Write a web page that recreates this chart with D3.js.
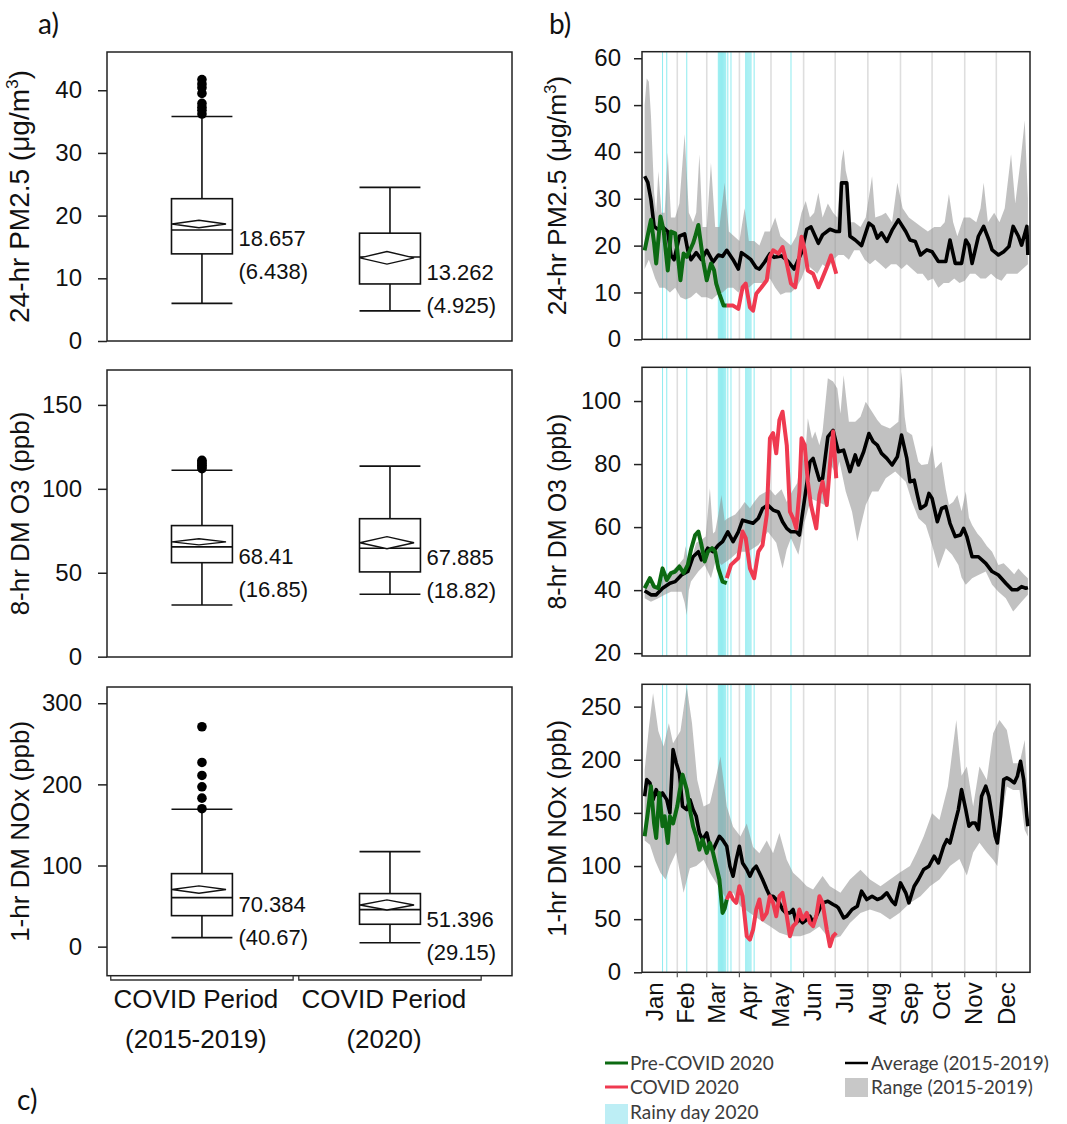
<!DOCTYPE html>
<html><head><meta charset="utf-8">
<script src="https://cdn.jsdelivr.net/npm/d3@7"></script>
<style>body{margin:0;background:#fff}</style>
</head><body>
<svg id="chart" width="1067" height="1124"></svg>
<script>
// ================= DATA =================
const catLine1 = ["COVID Period", "COVID Period"];
const catLine2 = ["(2015-2019)", "(2020)"];

// box-plot statistics: [2015-2019, 2020]
const pmWhiskerLow = [6.0, 4.8];
const pmQ1 = [13.9, 9.1];
const pmMedian = [17.7, 13.4];
const pmQ3 = [22.7, 17.2];
const pmWhiskerHigh = [35.8, 24.5];
const pmMean = [18.657, 13.262];
const pmSD = [6.438, 4.925];
const pmMeanCI = [0.6, 1.0];
const pmOutliers = [36.2, 36.8, 37.3, 37.9, 39.5, 40.4, 41.0, 41.7];

const o3WhiskerLow = [30.8, 37.2];
const o3Q1 = [56.0, 50.5];
const o3Median = [65.4, 64.6];
const o3Q3 = [78.1, 82.2];
const o3WhiskerHigh = [111.1, 113.5];
const o3Mean = [68.41, 67.885];
const o3SD = [16.85, 18.82];
const o3MeanCI = [1.8, 3.6];
const o3Outliers = [112, 113, 114, 115, 116, 117];

const noxWhiskerLow = [11.1, 4.9];
const noxQ1 = [38.2, 27.6];
const noxMedian = [60.4, 45.6];
const noxQ3 = [90.0, 65.4];
const noxWhiskerHigh = [169.4, 117.1];
const noxMean = [70.384, 51.396];
const noxSD = [40.67, 29.15];
const noxMeanCI = [4.5, 6.2];
const noxOutliers = [170, 183, 197, 211, 227, 271];

// time axis
const monthNames = ["Jan","Feb","Mar","Apr","May","Jun","Jul","Aug","Sep","Oct","Nov","Dec"];
const monthStarts = [1,32,60,91,121,152,182,213,244,274,305,335];
const rainyDays2020 = [18,22,41,71,72,73,74,75,76,77,78,80,83,97,98,99,100,101,102,105,140];

// ---- 24-hr PM2.5 [dayOfYear, value]
const pmAvg = [[1,34.8],[4,33.5],[7,29.8],[10,24.1],[14,23.4],[18,24],[23,23],[26,18],[29,17],[34,22],[39,22.5],[42,19],[45,17],[50,18.5],[55,17],[60,19],[66,16.5],[71,18],[75,17.7],[79,19],[85,17],[90,15],[93,18.5],[98,17.7],[102,17],[107,15.3],[110,15],[115,16.5],[120,18.3],[124,17.5],[131,17.8],[137,16.7],[143,15],[150,18.5],[155,23.5],[159,24],[166,20.5],[170,22.3],[177,23.5],[183,23],[186,23],[188,33.4],[193,33.4],[196,22],[201,21.2],[207,20],[214,24.8],[218,24.1],[222,21.6],[226,22.7],[231,20.9],[236,23.3],[242,25.5],[249,23],[253,21.2],[258,20.9],[263,18],[269,19.1],[274,18.7],[280,16.6],[287,16.6],[291,21.2],[296,16.2],[302,16.2],[306,21.2],[309,20.1],[312,16.2],[318,22],[323,24.1],[328,21.2],[331,19.1],[337,18],[342,18.7],[347,19.8],[351,24.1],[356,22],[359,20.1],[364,24.1],[365,18]];
const pmHigh = [[1,50],[3,55.7],[5,55],[7,47.8],[10,31.3],[12,27],[14,35.9],[17,27],[20,27],[23,39.9],[26,26],[30,26],[34,29],[39,43.8],[43,27],[47,25],[50,27],[53,39.5],[56,24],[60,24],[64,37.7],[68,24],[72,24],[77,33.4],[81,23],[86,22],[91,21],[96,28],[100,21],[105,21],[110,20],[115,23],[120,23],[125,26],[130,22],[135,21],[140,20],[145,22],[150,27],[154,29.5],[158,26],[162,27],[166,31.3],[170,26],[175,29],[180,27],[184,26],[188,38],[190,40.6],[192,36],[194,34],[196,25],[200,25],[206,24],[211,26],[217,34.8],[220,26],[226,26.5],[230,27],[236,25],[241,33.4],[246,28],[252,26],[258,25],[264,24],[270,23],[276,24],[282,24],[286,25],[290,31],[294,25],[298,22],[304,26],[310,26],[316,25],[320,28],[323,33.4],[327,25],[333,27],[338,25],[343,28],[349,39.5],[353,29],[358,38],[362,46.7],[365,30]];
const pmLow = [[1,15],[5,17],[8,15],[11,13],[15,11],[20,11],[25,10],[30,11],[35,9],[40,8.5],[45,9],[50,10],[55,9],[60,9],[65,8.5],[70,9.5],[75,10],[80,11],[85,11],[90,10],[95,12],[100,11],[105,12],[110,12],[115,12],[120,13],[125,11],[130,9.5],[135,10],[140,10],[145,11],[150,13],[155,16],[160,15],[165,14],[170,16],[175,15],[180,17],[185,18],[190,18],[195,17],[200,19],[205,19],[210,17],[215,16],[220,17],[225,16],[230,15],[235,16],[240,16],[245,15],[250,16],[255,15],[260,14],[265,14],[270,12.5],[275,13],[280,11],[285,12],[290,12],[295,13],[300,12],[305,12.5],[310,14],[315,14],[320,13],[325,13],[330,14],[335,13],[340,12.5],[345,14],[350,14],[355,14],[360,15],[365,16]];
const pmPreCovid = [[1,19.0],[7,25.5],[10,20.5],[12,16.2],[16,26.2],[19,23.3],[23,14.7],[26,23.0],[30,22.6],[32,19.0],[35,12.6],[38,18.3],[41,17.6],[44,19.0],[47,20.5],[49,21.9],[52,24.4],[57,16.2],[60,12.6],[64,16.2],[67,14.7],[69,11.9],[72,9.7],[76,7.2],[79,7.2]];
const pmCovid = [[79,7.2],[85,7.2],[90,6.5],[94,11.1],[97,11.9],[101,6.8],[104,6.1],[107,9.7],[112,11.1],[117,12.6],[120,17.6],[123,19],[128,18.3],[132,19.7],[136,16.2],[140,11.9],[144,11.1],[147,16.2],[150,21.9],[153,19],[156,14.7],[161,14],[166,11.1],[169,12.6],[174,15.4],[178,17.9],[183,14]];

// ---- 8-hr DM O3
const o3Avg = [[1,39.8],[7,38.5],[12,38.5],[18,40.6],[25,42.2],[30,42.7],[36,44.8],[42,45.9],[47,50.6],[52,52.2],[55,49.6],[61,53.3],[66,52.2],[71,54.3],[75,55.4],[80,58.5],[85,55.4],[90,58.5],[94,62.2],[99,61.7],[104,61.2],[109,62.8],[113,65.9],[118,67],[123,65.4],[128,64.8],[132,61.7],[136,59.6],[140,58.5],[145,58.5],[148,57.5],[153,69.1],[158,80.7],[161,81.8],[167,74.9],[170,75.4],[175,88.6],[180,90.7],[185,83.9],[190,84.4],[196,77.6],[201,82.9],[204,79.7],[209,83.9],[214,89.7],[218,87.1],[222,86],[226,83.4],[231,81.8],[236,79.7],[241,82.3],[245,89.2],[250,81.8],[253,74.4],[257,74.9],[260,70.2],[263,65.9],[268,67],[271,70.7],[274,69.1],[279,61.7],[283,65.9],[287,66.5],[291,61.2],[296,57],[301,57.5],[304,59.6],[307,57],[312,50.6],[318,50.6],[325,48.5],[331,45.9],[337,44.8],[344,42.2],[350,40.1],[355,40.1],[359,41.1],[363,40.6],[365,40.8]];
const o3High = [[1,42.2],[7,41.7],[14,41.1],[20,44.8],[26,45.9],[33,48],[38,50],[40,54],[42,49],[45,49.1],[50,55],[55,56],[59,57],[63,72.3],[66,58],[68,58.6],[71,64],[74,70.2],[77,62],[80,62.8],[87,64],[92,66],[96,68],[101,66],[105,68],[110,70],[115,71],[120,72],[125,70],[131,72],[136,68],[141,71.3],[146,74],[150,84.3],[153,80],[156,94.5],[160,88],[163,90.3],[167,86],[170,90.3],[175,107.2],[180,106.2],[184,104],[187,96],[190,108.2],[195,93.4],[201,93.4],[206,95],[211,99.8],[217,96.6],[222,94],[226,92.4],[234,91.3],[242,93.4],[245,109.3],[248,95],[250,90.3],[255,89.2],[261,80.7],[264,79.7],[270,80],[274,86],[277,78.6],[283,80.7],[287,72],[290,67],[294,68],[298,70.2],[302,65],[306,71.3],[309,63],[312,60.7],[317,58],[321,56.5],[326,54],[331,52.2],[337,48],[342,48.5],[347,46.9],[352,45],[356,46.9],[361,45],[365,43.8]];
const o3Low = [[1,37.4],[7,36.3],[14,37.4],[20,38.5],[26,39.5],[36,39.5],[39,36],[41,32.1],[43,40],[45,42.7],[52,45.9],[58,48],[64,43.8],[69,50],[74,48],[83,50.1],[90,52.2],[99,52.2],[109,54.3],[118,58.5],[126,55],[132,46.9],[136,53],[140,56.5],[147,51.2],[153,61.7],[159,69.1],[166,68],[172,67],[178,79.7],[183,76.5],[186,80.8],[192,71.3],[198,64.9],[203,55.4],[206,60],[211,67],[217,71.3],[223,71.3],[230,75.5],[239,77.6],[249,74.4],[255,68],[261,62.8],[268,60.7],[274,54.3],[280,46.9],[287,53.3],[293,51.2],[299,48],[302,44],[306,41.7],[312,43.8],[318,44.8],[325,45.9],[331,41.7],[337,39.5],[344,37.4],[351,33.2],[359,36.3],[365,38.5]];
const o3PreCovid = [[1,40.6],[6,43.8],[10,41.1],[14,40.6],[18,46.9],[22,43.2],[26,45.4],[30,45.9],[34,47.5],[38,45.4],[42,48],[45,52.8],[49,57.5],[52,58.6],[55,54.3],[58,49.1],[61,52.2],[65,53.3],[68,52.2],[71,46.9],[75,42.7],[79,42.2]];
const o3Covid = [[79,43.8],[83,48],[90,50.2],[94,58.6],[97,56.5],[101,46.9],[105,43.8],[109,52.2],[113,54.3],[117,63.9],[120,88.2],[123,89.8],[126,83.4],[129,94],[132,96.6],[136,86],[139,64.9],[142,62.8],[145,59.6],[148,71.3],[150,88.2],[153,86],[156,74.4],[159,67],[164,59.6],[167,70.2],[170,74.4],[174,67],[177,79.7],[180,90.3],[183,75.5]];

// ---- 1-hr DM NOx
const noxAvg = [[1,165.7],[3,181.3],[6,178.2],[9,162.5],[12,171.9],[15,164],[18,168.7],[22,162.5],[25,150],[28,209.5],[31,197],[34,187.6],[37,156.2],[41,153.1],[44,162.5],[47,153.1],[50,146.8],[53,131.1],[56,124.8],[60,131.1],[63,118.6],[66,115.4],[69,121.7],[72,128],[75,124.8],[79,118.6],[82,99.8],[85,90.4],[88,106.1],[91,118.6],[94,102.9],[98,96.7],[101,90.4],[104,96.7],[107,99.8],[110,93.6],[113,87.3],[117,77.9],[120,71.6],[123,71.6],[126,68.5],[129,65.3],[132,59.1],[135,55.9],[139,55.9],[142,59.1],[145,46.6],[148,49.7],[151,46.6],[155,49.7],[158,52.8],[161,46.6],[164,52.8],[167,59.1],[170,65.3],[175,66.9],[180,63.8],[183,62.2],[185,60.6],[190,51.2],[193,52.8],[198,59.1],[203,62.2],[207,76.3],[212,68.5],[217,71.6],[222,68.5],[226,70],[231,74.8],[236,66.9],[239,63.8],[244,84.1],[249,74.8],[252,65.3],[257,81],[261,87.3],[266,96.7],[271,99.8],[276,109.2],[280,102.9],[285,118.6],[288,124.8],[291,121.7],[295,137.4],[299,153.1],[302,171.9],[306,153.1],[309,137.4],[312,140.5],[315,140.5],[318,134.3],[321,165.7],[325,175.1],[328,165.7],[331,146.8],[334,128],[336,121.7],[339,146.8],[342,181.3],[345,182.9],[348,181.3],[352,178.2],[355,184.4],[358,198.5],[361,181.3],[364,146.8],[365,137.4]];
const noxHigh = [[1,190],[5,230],[9,262.6],[14,227],[19,212.4],[24,234.3],[28,215.5],[35,227],[41,268.9],[46,234.3],[51,181],[57,156],[63,159],[68,180],[73,203],[79,156],[85,137],[92,127.7],[98,140],[104,118],[110,112],[117,124],[123,112],[129,131],[136,106],[142,93.7],[149,87.4],[155,81],[161,78],[170,90.6],[177,81],[187,74.8],[196,87.4],[206,96.5],[215,87.4],[225,81],[234,87.4],[243,93.7],[253,100],[259,112],[266,127.7],[274,149.6],[281,143.4],[289,174.8],[297,237.4],[302,185],[307,193.6],[313,156],[319,193.6],[326,181],[332,224.9],[338,237.4],[345,228],[351,196.7],[357,196.7],[362,218.6],[365,165]];
const noxLow = [[1,124],[6,120],[11,105],[16,93.7],[21,87.4],[25,100],[31,113],[38,74.8],[44,98],[50,100],[57,106],[63,93.7],[69,84],[79,68.6],[85,75],[92,62.2],[101,55.9],[110,49.6],[120,43.4],[129,37.1],[139,34],[149,33.9],[158,37],[167,43],[177,30.8],[187,33.9],[196,46.5],[206,55.9],[215,59],[225,55.9],[234,49.6],[243,55.9],[253,65.3],[263,71.6],[272,81],[281,87.4],[291,100],[300,106.5],[307,91],[313,112.8],[319,122],[326,112.8],[332,106],[336,100],[341,150],[345,174.8],[351,171.6],[357,171.6],[362,134],[365,127.7]];
const noxPreCovid = [[1,128],[4,150],[7,175],[10,140],[12,126.4],[15,168.8],[18,137.4],[20,146.8],[23,121.7],[25,146.8],[28,140],[32,156.2],[34,168.8],[37,186],[41,171.9],[44,153.1],[47,137.4],[50,128],[53,115.4],[56,124.8],[60,112.3],[63,121.7],[66,112.3],[69,99.8],[72,87.3],[75,55.9],[77,60],[79,68.5]];
const noxCovid = [[79,68.5],[82,74.8],[85,68.5],[88,65.3],[91,81],[94,71.6],[98,34],[101,30.8],[104,40.2],[107,59.1],[110,68.5],[113,49.7],[117,55.9],[120,71.6],[123,65.3],[126,52.8],[129,71.6],[132,74.8],[136,52.8],[139,34],[142,43.4],[145,46.6],[148,59.1],[151,49.7],[155,55.9],[158,46.6],[161,43.4],[164,52.8],[167,71.6],[170,65.3],[174,40.2],[177,24.5],[180,34],[183,37.1]];

const legendItems = ["Pre-COVID 2020","COVID 2020","Rainy day 2020","Average (2015-2019)","Range (2015-2019)"];

// ================= DRAWING =================
const FONT = '"Liberation Sans", Arial, Helvetica, sans-serif';
const LFONT = 'Lato, "Open Sans", sans-serif';
const svg = d3.select("#chart");
svg.append("rect").attr("width",1067).attr("height",1124).attr("fill","#fff");

function yTitle(g, x, yc, parts, size){
  const t = g.append("text").attr("transform",`translate(${x},${yc}) rotate(-90)`)
    .attr("text-anchor","middle").attr("font-family",FONT).attr("font-size",size).attr("fill","#111");
  parts.forEach(p=>{
    const ts = t.append("tspan").text(p.t);
    if(p.sup){ ts.attr("font-size",size*0.62).attr("dy",-size*0.38); }
    if(p.after){ ts.attr("dy",size*0.38); }
  });
}

// ---------- Panel a: box plots ----------
const boxL = 107, boxR = 512;
const xCat = d3.scaleLinear().domain([0.495, 2.649]).range([boxL, boxR]);
const catIdx = [1, 2];

function boxPanel(c){
  const y = d3.scaleLinear().domain(c.domain).range([c.bottom, c.top]);
  const g = svg.append("g");
  const hw = xCat(1.162) - xCat(1);
  const dw = xCat(1.144) - xCat(1);
  catIdx.forEach((k,i)=>{
    const cx = xCat(k);
    const s = "#111", sw = 1.6;
    g.append("line").attr("x1",cx).attr("x2",cx).attr("y1",y(c.whLo[i])).attr("y2",y(c.q1[i])).attr("stroke",s).attr("stroke-width",sw);
    g.append("line").attr("x1",cx).attr("x2",cx).attr("y1",y(c.q3[i])).attr("y2",y(c.whHi[i])).attr("stroke",s).attr("stroke-width",sw);
    [c.whLo[i], c.whHi[i]].forEach(v=>g.append("line").attr("x1",cx-hw).attr("x2",cx+hw).attr("y1",y(v)).attr("y2",y(v)).attr("stroke",s).attr("stroke-width",sw));
    g.append("rect").attr("x",cx-hw).attr("width",2*hw).attr("y",y(c.q3[i])).attr("height",y(c.q1[i])-y(c.q3[i]))
      .attr("fill","#fff").attr("stroke",s).attr("stroke-width",sw);
    g.append("line").attr("x1",cx-hw).attr("x2",cx+hw).attr("y1",y(c.med[i])).attr("y2",y(c.med[i])).attr("stroke",s).attr("stroke-width",sw);
    const dcx = cx - 3;
    const pts = [[dcx-dw,y(c.mean[i])],[dcx,y(c.mean[i]+c.ci[i])],[dcx+dw,y(c.mean[i])],[dcx,y(c.mean[i]-c.ci[i])]];
    g.append("path").attr("d",d3.line()(pts)+"Z").attr("fill","#fff").attr("stroke",s).attr("stroke-width",1.4);
    if(i===0){
      c.out.forEach(v=>g.append("circle").attr("cx",cx).attr("cy",y(v)).attr("r",4.8).attr("fill","#000"));
    }
    const tx = cx + hw + 6, ty = y(c.mean[i]) + 22;
    g.append("text").attr("x",tx).attr("y",ty).text(String(c.mean[i]))
      .attr("font-family",FONT).attr("font-size",22).attr("fill","#111");
    g.append("text").attr("x",tx).attr("y",ty+33).text("("+c.sd[i]+")")
      .attr("font-family",FONT).attr("font-size",22).attr("fill","#111");
  });
  g.append("rect").attr("x",boxL).attr("y",c.top).attr("width",boxR-boxL).attr("height",c.bottom-c.top)
    .attr("fill","none").attr("stroke","#222").attr("stroke-width",1.5);
  const ax = g.append("g").attr("transform",`translate(${boxL},0)`)
    .call(d3.axisLeft(y).tickValues(c.ticks).tickSize(9).tickPadding(16).tickFormat(d3.format("d")));
  ax.select(".domain").remove();
  ax.selectAll("line").attr("stroke","#222").attr("stroke-width",1.5);
  ax.selectAll("text").attr("font-family",FONT).attr("font-size",24).attr("fill","#111");
  yTitle(g, 29, (c.top+c.bottom)/2, c.title, c.titleSize);
  return g;
}

boxPanel({top:52,bottom:341,domain:[0,46.1],ticks:[0,10,20,30,40],titleSize:28,
  whLo:pmWhiskerLow,q1:pmQ1,med:pmMedian,q3:pmQ3,whHi:pmWhiskerHigh,mean:pmMean,sd:pmSD,ci:pmMeanCI,out:pmOutliers,
  title:[{t:"24-hr PM2.5 (μg/m"},{t:"3",sup:true},{t:")",after:true}]});
boxPanel({top:370,bottom:657,domain:[-0.2,170.8],ticks:[0,50,100,150],titleSize:26,
  whLo:o3WhiskerLow,q1:o3Q1,med:o3Median,q3:o3Q3,whHi:o3WhiskerHigh,mean:o3Mean,sd:o3SD,ci:o3MeanCI,out:o3Outliers,
  title:[{t:"8-hr DM O3 (ppb)"}]});
const noxG = boxPanel({top:687,bottom:975.7,domain:[-35.8,320],ticks:[0,100,200,300],titleSize:26,
  whLo:noxWhiskerLow,q1:noxQ1,med:noxMedian,q3:noxQ3,whHi:noxWhiskerHigh,mean:noxMean,sd:noxSD,ci:noxMeanCI,out:noxOutliers,
  title:[{t:"1-hr DM NOx (ppb)"}]});

catIdx.forEach((k,i)=>{
  const x0 = xCat(k-0.485), x1 = xCat(k+0.485);
  noxG.append("path").attr("d",`M${x0},975.7 L${x0},980 L${x1},980 L${x1},975.7`)
    .attr("fill","none").attr("stroke","#333").attr("stroke-width",1.3);
  noxG.append("text").attr("x",xCat(k)-6).attr("y",1008).attr("text-anchor","middle").text(catLine1[i])
    .attr("font-family",FONT).attr("font-size",26).attr("fill","#111");
  noxG.append("text").attr("x",xCat(k)-6).attr("y",1048).attr("text-anchor","middle").text(catLine2[i])
    .attr("font-family",FONT).attr("font-size",26).attr("fill","#111");
});

// ---------- Panel b: time series ----------
const xDay = d3.scaleLinear().domain([-1.5, 367]).range([642, 1030]);
const GREEN = "#0c6a12", RED = "#ef3a50", CYAN = "#93ecf0";
let clipN = 0;

function timePanel(c){
  const y = d3.scaleLinear().domain(c.domain).range([c.bottom, c.top]);
  const g = svg.append("g");
  const id = "clip"+(clipN++);
  g.append("clipPath").attr("id",id).append("rect").attr("x",642).attr("y",c.top).attr("width",388).attr("height",c.bottom-c.top);
  const p = g.append("g").attr("clip-path",`url(#${id})`);
  monthStarts.slice(1).forEach(d=>{
    p.append("line").attr("x1",xDay(d)).attr("x2",xDay(d)).attr("y1",c.top).attr("y2",c.bottom)
      .attr("stroke","#dedede").attr("stroke-width",1.6);
  });
  rainyDays2020.forEach(d=>{
    p.append("rect").attr("x",xDay(d-0.5)).attr("width",xDay(d+0.5)-xDay(d-0.5)).attr("y",c.top).attr("height",c.bottom-c.top)
      .attr("fill",CYAN);
  });
  const pts = c.hi.map(([d,v])=>[xDay(d),y(v)]).concat(c.lo.slice().reverse().map(([d,v])=>[xDay(d),y(v)]));
  p.append("path").attr("d",d3.line()(pts)+"Z").attr("fill","#8e8e8e").attr("fill-opacity",0.55);
  const line = d3.line().x(d=>xDay(d[0])).y(d=>y(d[1])).curve(d3.curveLinear);
  p.append("path").attr("d",line(c.avg)).attr("fill","none").attr("stroke","#000").attr("stroke-width",3.6).attr("stroke-linejoin","round");
  p.append("path").attr("d",line(c.pre)).attr("fill","none").attr("stroke",GREEN).attr("stroke-width",4).attr("stroke-linejoin","round");
  p.append("path").attr("d",line(c.cov)).attr("fill","none").attr("stroke",RED).attr("stroke-width",4).attr("stroke-linejoin","round");
  g.append("rect").attr("x",642).attr("y",c.top).attr("width",388).attr("height",c.bottom-c.top)
    .attr("fill","none").attr("stroke","#222").attr("stroke-width",1.5);
  const ax = g.append("g").attr("transform","translate(642,0)")
    .call(d3.axisLeft(y).tickValues(c.ticks).tickSize(8).tickPadding(13).tickFormat(d3.format("d")));
  ax.select(".domain").remove();
  ax.selectAll("line").attr("stroke","#222").attr("stroke-width",1.5);
  ax.selectAll("text").attr("font-family",FONT).attr("font-size",24).attr("fill","#111");
  yTitle(g, 566, (c.top+c.bottom)/2, c.title, c.titleSize);
  if(c.months){
    monthStarts.slice(1).forEach(d=>{
      g.append("line").attr("x1",xDay(d)).attr("x2",xDay(d)).attr("y1",c.bottom).attr("y2",c.bottom+5)
        .attr("stroke","#555").attr("stroke-width",1.2);
    });
    monthNames.forEach((m,i)=>{
      const next = i<11 ? monthStarts[i+1] : 366;
      const mid = (monthStarts[i] + next - 1)/2;
      g.append("text").attr("transform",`translate(${xDay(mid)},${c.bottom+10}) rotate(-90)`)
        .attr("text-anchor","end").attr("dy","0.1em").text(m)
        .attr("font-family",FONT).attr("font-size",24).attr("fill","#111");
    });
  }
}

timePanel({top:51.7,bottom:339.3,domain:[0,61.4],ticks:[0,10,20,30,40,50,60],titleSize:26.5,
  avg:pmAvg,hi:pmHigh,lo:pmLow,pre:pmPreCovid,cov:pmCovid,
  title:[{t:"24-hr PM2.5 (μg/m"},{t:"3",sup:true},{t:")",after:true}]});
timePanel({top:367.3,bottom:656,domain:[19.1,110.7],ticks:[20,40,60,80,100],titleSize:25,
  avg:o3Avg,hi:o3High,lo:o3Low,pre:o3PreCovid,cov:o3Covid,title:[{t:"8-hr DM O3 (ppb)"}]});
timePanel({top:684.3,bottom:972.3,domain:[0,271],ticks:[0,50,100,150,200,250],titleSize:25.5,
  avg:noxAvg,hi:noxHigh,lo:noxLow,pre:noxPreCovid,cov:noxCovid,title:[{t:"1-hr DM NOx (ppb)"}],months:true});

// ---------- legend ----------
const lg = svg.append("g");
const lgTxt = (x,y,t)=>lg.append("text").attr("x",x).attr("y",y).text(t)
  .attr("font-family",LFONT).attr("font-size",19).attr("fill","#3c3c3c");
lg.append("line").attr("x1",605).attr("x2",628).attr("y1",1063).attr("y2",1063).attr("stroke",GREEN).attr("stroke-width",3);
lgTxt(630,1070,legendItems[0]);
lg.append("line").attr("x1",605).attr("x2",628).attr("y1",1087).attr("y2",1087).attr("stroke",RED).attr("stroke-width",3);
lgTxt(630,1094,legendItems[1]);
lg.append("rect").attr("x",605).attr("y",1104).attr("width",23).attr("height",20).attr("fill","#bdeef5");
lgTxt(630,1119,legendItems[2]);
lg.append("line").attr("x1",845).attr("x2",868).attr("y1",1063).attr("y2",1063).attr("stroke","#000").attr("stroke-width",2.5);
lgTxt(871,1070,legendItems[3]);
lg.append("rect").attr("x",845).attr("y",1078).attr("width",23).attr("height",19).attr("fill","#c8c8c8");
lgTxt(871,1094,legendItems[4]);

// ---------- panel letters ----------
[["a)",38,34],["b)",549,34],["c)",17,1110]].forEach(([t,x,y])=>{
  svg.append("text").attr("x",x).attr("y",y).text(t).attr("font-family",LFONT).attr("font-size",28).attr("fill","#111");
});
</script>
</body></html>
